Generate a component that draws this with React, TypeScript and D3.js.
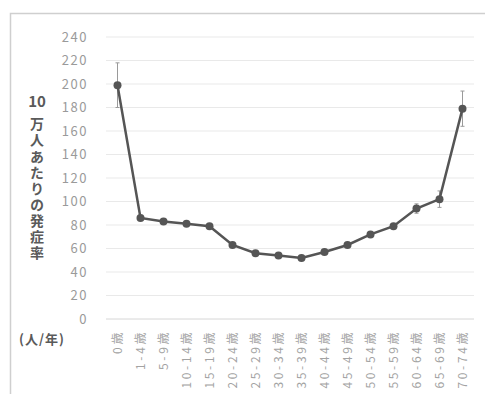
import React, { useEffect, useRef } from 'react';
import * as d3 from 'd3';

const categories = ['0歳', '1-4歳', '5-9歳', '10-14歳', '15-19歳', '20-24歳', '25-29歳', '30-34歳', '35-39歳', '40-44歳', '45-49歳', '50-54歳', '55-59歳', '60-64歳', '65-69歳', '70-74歳'];
const rates = [199, 86, 83, 81, 79, 63, 56, 54, 52, 57, 63, 72, 79, 94, 102, 179];
const errors = [19, 2, 2, 2, 2, 2, 2, 2, 2, 2, 2, 2, 2, 4, 7, 15];
const yTicks = [0, 20, 40, 60, 80, 100, 120, 140, 160, 180, 200, 220, 240];
const yTitleTop = '10';
const yTitleRest = '万人あたりの発症率';

const W = 485;
const H = 394;
const FONT = '"Noto Sans CJK JP", "Noto Sans", sans-serif';

export default function App() {
  const svgRef = useRef<SVGSVGElement>(null);

  useEffect(() => {
    if (!svgRef.current) return;
    const svg = d3.select(svgRef.current);
    svg.selectAll('*').remove();

    const margin = { top: 37, right: 11, bottom: 75, left: 106 };

    // frame
    svg.append('rect')
      .attr('x', 10.5).attr('y', 13.5)
      .attr('width', 520).attr('height', 420)
      .attr('fill', 'white')
      .attr('stroke', '#cfcfcf')
      .attr('stroke-width', 1.5);

    const x = d3.scaleBand()
      .domain(categories)
      .range([margin.left, W - margin.right]);

    const y = d3.scaleLinear()
      .domain([0, 240])
      .range([H - margin.bottom, margin.top]);

    // grid
    svg.append('g')
      .selectAll('line')
      .data(yTicks)
      .join('line')
      .attr('x1', margin.left)
      .attr('x2', W - margin.right)
      .attr('y1', d => y(d))
      .attr('y2', d => y(d))
      .attr('stroke', d => (d === 0 ? '#d6d6d6' : '#e9e9e9'))
      .attr('stroke-width', 1);

    // y tick labels
    svg.append('g')
      .selectAll('text')
      .data(yTicks)
      .join('text')
      .attr('x', 88)
      .attr('y', d => y(d))
      .attr('dy', '0.35em')
      .attr('text-anchor', 'end')
      .attr('font-family', FONT)
      .attr('font-size', 13)
      .attr('letter-spacing', 1.5)
      .attr('fill', '#9a9a9a')
      .text(d => d);

    // x labels (rotated)
    const cx = (c: string) => (x(c) || 0) + x.bandwidth() / 2;
    svg.append('g')
      .selectAll('text')
      .data(categories)
      .join('text')
      .attr('transform', d => `translate(${cx(d)},${H - margin.bottom + 11}) rotate(-90)`)
      .attr('dy', '0.35em')
      .attr('text-anchor', 'end')
      .attr('font-family', FONT)
      .attr('font-size', 12)
      .attr('letter-spacing', 2.6)
      .attr('fill', '#a3a3a3')
      .text(d => d);

    // error bars
    const eb = svg.append('g').attr('stroke', '#9a9a9a').attr('stroke-width', 1);
    categories.forEach((c, i) => {
      const px = cx(c);
      eb.append('line')
        .attr('x1', px).attr('x2', px)
        .attr('y1', y(rates[i] - errors[i])).attr('y2', y(rates[i] + errors[i]));
      [rates[i] - errors[i], rates[i] + errors[i]].forEach(v => {
        eb.append('line')
          .attr('x1', px - 2).attr('x2', px + 2)
          .attr('y1', y(v)).attr('y2', y(v));
      });
    });

    // line
    const line = d3.line<number>()
      .x((d, i) => cx(categories[i]))
      .y(d => y(d));
    svg.append('path')
      .datum(rates)
      .attr('d', line)
      .attr('fill', 'none')
      .attr('stroke', '#555555')
      .attr('stroke-width', 2.5);

    svg.append('g')
      .selectAll('circle')
      .data(rates)
      .join('circle')
      .attr('cx', (d, i) => cx(categories[i]))
      .attr('cy', d => y(d))
      .attr('r', 4)
      .attr('fill', '#555555');

    // y title: "10" on top, rest written vertically
    svg.append('text')
      .attr('x', 37)
      .attr('y', 102)
      .attr('dy', '0.36em')
      .attr('text-anchor', 'middle')
      .attr('font-family', FONT)
      .attr('font-size', 15)
      .attr('font-weight', 'bold')
      .attr('fill', '#5a5a5a')
      .text(yTitleTop);

    svg.append('text')
      .attr('x', 37)
      .attr('y', 117)
      .style('writing-mode', 'vertical-rl')
      .attr('letter-spacing', 2.1)
      .attr('font-family', FONT)
      .attr('font-size', 14)
      .attr('font-weight', 'bold')
      .attr('fill', '#5a5a5a')
      .text(yTitleRest);

    svg.append('text')
      .attr('x', 19)
      .attr('y', 339)
      .attr('dy', '0.36em')
      .attr('font-family', FONT)
      .attr('font-size', 13)
      .attr('letter-spacing', 1)
      .attr('font-weight', 'bold')
      .attr('fill', '#5a5a5a')
      .text('(人/年)');
  }, []);

  return (
    <svg
      ref={svgRef}
      width={W}
      height={H}
      viewBox={`0 0 ${W} ${H}`}
      style={{ position: 'absolute', left: 0, top: 0, background: 'white' }}
    />
  );
}
